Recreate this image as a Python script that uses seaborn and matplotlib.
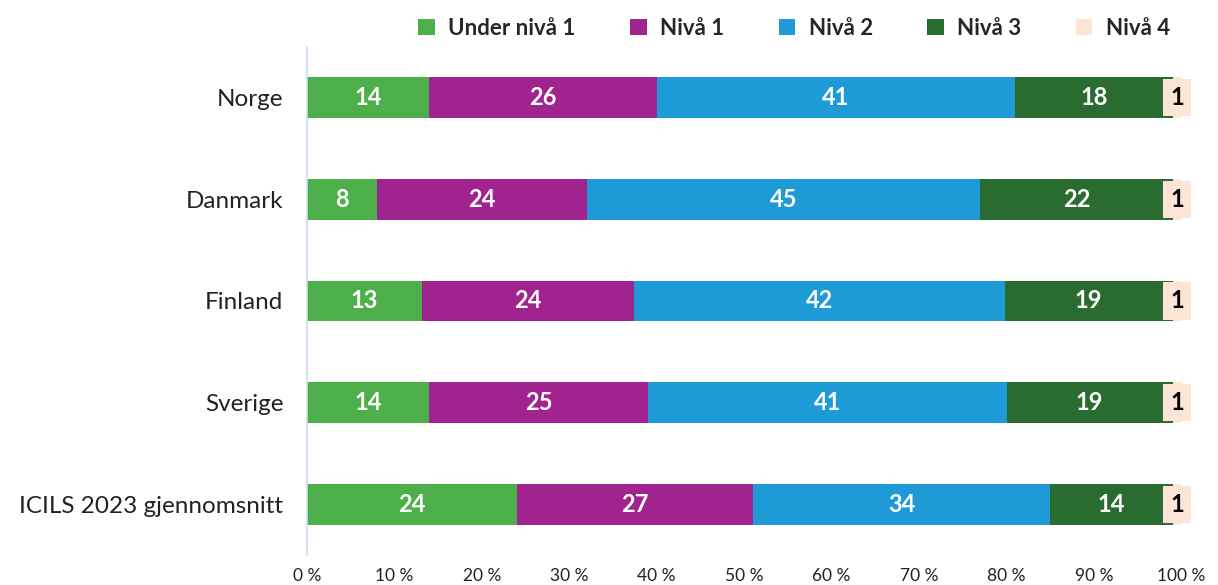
import matplotlib.pyplot as plt
import numpy as np
import pandas as pd
import seaborn as sns
from matplotlib.patches import Patch

# Data (percent of students per level)
countries = ["Norge", "Danmark", "Finland", "Sverige", "ICILS 2023 gjennomsnitt"]
levels = ["Under nivå 1", "Nivå 1", "Nivå 2", "Nivå 3", "Nivå 4"]
under_niva1 = [14, 8, 13, 14, 24]
niva1 = [26, 24, 24, 25, 27]
niva2 = [41, 45, 42, 41, 34]
niva3 = [18, 22, 19, 19, 14]
niva4 = [1, 1, 1, 1, 1]
colors = ["#4DAF4A", "#A0238F", "#1E9BD7", "#2A6B30", "#FCE4D6"]
xtick_labels = [f"{v} %" for v in range(0, 101, 10)]

sns.set_theme(style="white")
plt.rcParams["font.family"] = ["Lato", "DejaVu Sans"]

values = np.array([under_niva1, niva1, niva2, niva3, niva4], dtype=float)
# 100 % stacked: normalise each country to its total
shares = values / values.sum(axis=0) * 100
cum = np.cumsum(shares, axis=0)

fig = plt.figure(figsize=(12.18, 5.85), dpi=100)
ax = fig.add_axes([0.252, 0.051, 0.718, 0.869])

# draw cumulative bars from the outermost level inwards so they stack
for i in range(len(levels) - 1, -1, -1):
    df = pd.DataFrame({"land": countries, "cum": cum[i]})
    sns.barplot(data=df, x="cum", y="land", orient="h", color=colors[i],
                width=0.4, saturation=1, ax=ax, edgecolor="none")

# segment labels
for j in range(len(countries)):
    for i in range(len(levels)):
        mid = cum[i, j] - shares[i, j] / 2
        if i == len(levels) - 1:
            ax.text(mid, j, f"{int(values[i, j])}", ha="center", va="center",
                    fontsize=17, fontweight="bold", color="black",
                    bbox=dict(boxstyle="square,pad=0.3", fc=colors[i], ec="none"))
        else:
            ax.text(mid, j, f"{int(values[i, j])}", ha="center", va="center",
                    fontsize=17, fontweight="bold", color="white")

ax.set_xlim(0, 100)
ax.set_ylim(4.5, -0.5)
ax.set_xticks(range(0, 101, 10))
ax.set_xticklabels(xtick_labels, fontsize=12.5, color="#222222")
ax.tick_params(axis="x", length=0, pad=9)
ax.tick_params(axis="y", length=0, pad=17, labelsize=17.5, labelcolor="#222222")
ax.set_xlabel("")
ax.set_ylabel("")
for side in ["top", "right", "bottom"]:
    ax.spines[side].set_visible(False)
ax.spines["left"].set_color("#C9DDF0")
ax.spines["left"].set_linewidth(1.2)

handles = [Patch(facecolor=c, edgecolor="none") for c in colors]
fig.legend(handles, levels, loc="center", bbox_to_anchor=(0.652, 0.952), ncol=5,
           frameon=False, handlelength=0.75, handleheight=0.75, handletextpad=0.6,
           columnspacing=2.45, prop={"weight": "bold", "size": 16})

fig.savefig("out.png", dpi=100)
